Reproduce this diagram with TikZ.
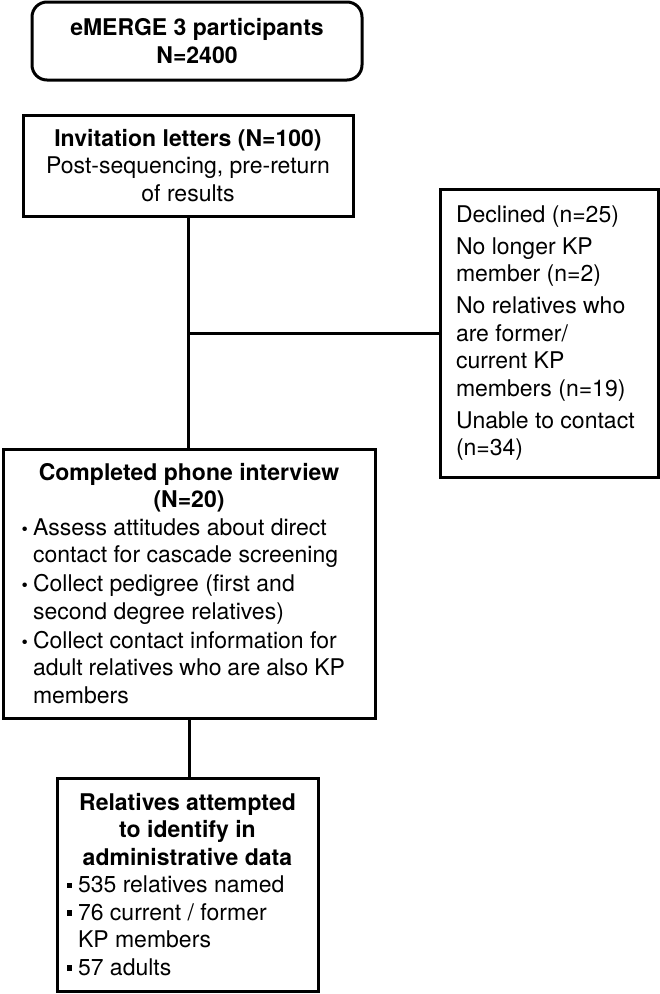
\documentclass[tikz,border=0pt]{standalone}
\usepackage{fontspec}
\setmainfont{TeX Gyre Heros}
\newcommand{\blt}{\leavevmode\llap{{\fontsize{18}{18}\selectfont\textbullet}\hspace{5pt}}}
\newcommand{\sqb}{\leavevmode\llap{\rule[4.5pt]{5.5pt}{5.5pt}\hspace{6pt}}}
\begin{document}
\begin{tikzpicture}[x=1pt,y=-1pt,
  box/.style={draw, line width=3pt, inner sep=0pt, align=center,
    font=\fontsize{23}{27.5}\selectfont},
  conn/.style={line width=3pt}]
\fill[white] (0,0) rectangle (660,994);
\useasboundingbox (0,0) rectangle (660,994);

\node[box, rounded corners=15pt, minimum width=330pt, minimum height=78pt] (top) at (197,41)
  {\bfseries eMERGE 3 participants\\\bfseries N=2400};

\node[box, minimum width=330pt, minimum height=101pt] (inv) at (188,165.5)
  {\textbf{Invitation letters (N=100)}\\Post-sequencing, pre-return\\of results};

\node[box, minimum width=218pt, minimum height=288pt] (decl) at (549,333)
  {\parbox{186pt}{\raggedright Declined (n=25)\\[4.5pt]
   No longer KP\\member (n=2)\\[4.5pt]
   No relatives who\\are former/\\current KP\\members (n=19)\\[4.5pt]
   Unable to contact\\(n=34)}};

\node[box, minimum width=372pt, minimum height=269pt] (comp) at (189,583.5)
  {\parbox{312pt}{\centering\bfseries Completed phone interview\\(N=20)\par
   \raggedright\mdseries
   \blt Assess attitudes about direct\\contact for cascade screening\\[1.5pt]
   \blt Collect pedigree (first and\\second degree relatives)\\[1.5pt]
   \blt Collect contact information for\\adult relatives who are also KP\\members}};

\node[box, minimum width=261pt, minimum height=213pt] (rel) at (187.5,884.5)
  {\parbox{219pt}{\centering\bfseries Relatives attempted\\to identify in\\administrative data\par
   \raggedright\mdseries
   \sqb 535 relatives named\\
   \sqb 76 current / former\\KP members\\
   \sqb 57 adults}};

\draw[conn] (inv.south) -- (inv.south |- comp.north);
\draw[conn] (inv.south |- decl.west) -- (decl.west);
\draw[conn] (comp.south) -- (comp.south |- rel.north);
\end{tikzpicture}
\end{document}
